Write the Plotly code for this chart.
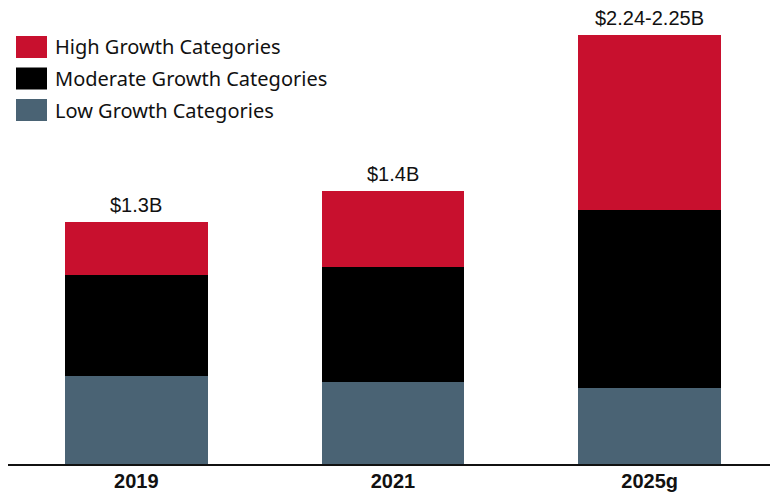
import plotly.graph_objects as go

years = ["2019", "2021", "2025g"]
low = [0.46, 0.43, 0.40]
moderate = [0.53, 0.60, 0.93]
high = [0.28, 0.40, 0.92]
totals_text = ["$1.3B", "$1.4B", "$2.24-2.25B"]

series = [
    ("Low Growth Categories", low, "#4A6374"),
    ("Moderate Growth Categories", moderate, "#000000"),
    ("High Growth Categories", high, "#C8102E"),
]

# page has an 8px body margin, so the figure is 8px smaller than the window
W, H = 770, 485
PLOT_H = 456

fig = go.Figure()
for name, vals, color in series:
    fig.add_trace(go.Bar(x=years, y=vals, name=name, marker_color=color,
                         marker_line_width=0, showlegend=False))

# total labels above each stack (category index positions)
totals = [a + b + c for a, b, c in zip(low, moderate, high)]
for i, (tot, txt) in enumerate(zip(totals, totals_text)):
    fig.add_annotation(x=i, y=tot, text=txt, showarrow=False, yanchor="bottom",
                       yshift=4, font=dict(family="Liberation Sans, Arial", size=20, color="#111"))

# custom legend with large swatches (top to bottom: high, moderate, low)
for i, (name, vals, color) in enumerate(reversed(series)):
    top = 28 + i * 31.5
    fig.add_shape(type="rect", xref="paper", yref="paper",
                  x0=8 / W, x1=39 / W,
                  y0=1 - (top + 22) / PLOT_H, y1=1 - top / PLOT_H,
                  fillcolor=color, line_width=0)
    fig.add_annotation(xref="paper", yref="paper", x=45 / W, y=1 - (top + 11) / PLOT_H,
                       text=name, showarrow=False, xanchor="left", yanchor="middle",
                       font=dict(family="Noto Sans, Open Sans", size=20, color="#111"))

fig.update_layout(
    barmode="stack",
    bargap=0.445,
    width=W, height=H,
    margin=dict(l=0, r=0, t=0, b=H - PLOT_H),
    plot_bgcolor="white",
    paper_bgcolor="white",
    xaxis=dict(type="category", categoryorder="array", categoryarray=years,
               range=[-0.5, 2.5], showline=True, linecolor="#111", linewidth=2, ticks="",
               automargin=False, ticklabelstandoff=-2,
               tickfont=dict(family="Liberation Sans, Arial", size=20,
                             color="#111", weight="bold")),
    yaxis=dict(range=[0, 2.39], visible=False, showgrid=False, automargin=False),
)

fig.write_html("out.html")
